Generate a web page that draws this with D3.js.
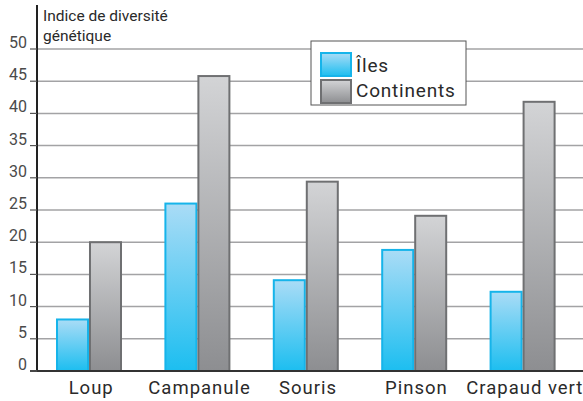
<!DOCTYPE html>
<html>
<head>
<meta charset="utf-8">
<script src="https://cdn.jsdelivr.net/npm/d3@7"></script>
<style>
  body { margin: 0; background: #fff; }
  text { font-family: Roboto, "Liberation Sans", sans-serif; }
</style>
</head>
<body>
<div id="chart"></div>
<script>
const categories = ['Loup', 'Campanule', 'Souris', 'Pinson', 'Crapaud vert']
const seriesNames = ['Îles', 'Continents']
const iles = [8, 26, 14.1, 18.8, 12.3]
const continents = [20, 45.8, 29.4, 24.1, 41.8]
const yTicks = [0, 5, 10, 15, 20, 25, 30, 35, 40, 45, 50]

const width = 583, height = 401
const margin = { top: 49, right: 0, bottom: 30, left: 37 }

const svg = d3.select('#chart').append('svg')
  .attr('width', width)
  .attr('height', height)

const defs = svg.append('defs')
function grad(id, top, bottom) {
  let g = defs.append('linearGradient').attr('id', id)
    .attr('x1', 0).attr('y1', 0).attr('x2', 0).attr('y2', 1)
  g.append('stop').attr('offset', '0%').attr('stop-color', top)
  g.append('stop').attr('offset', '100%').attr('stop-color', bottom)
}
grad('gIles', '#aadcf6', '#1cbef0')
grad('gCont', '#d3d4d6', '#8d8e91')
const fills = ['url(#gIles)', 'url(#gCont)']
const strokes = ['#16b4ea', '#6f7072']

const y = d3.scaleLinear().domain([0, 50]).range([371, 49])
const x0 = d3.scaleBand().domain(categories).range([37, 579]).paddingInner(0)
const x1 = d3.scaleBand().domain(seriesNames).range([20, 84]).paddingInner(0.06)

// gridlines
svg.append('g')
  .selectAll('line')
  .data(yTicks.slice(1))
  .enter()
  .append('line')
  .attr('x1', margin.left)
  .attr('x2', width)
  .attr('y1', d => y(d))
  .attr('y2', d => y(d))
  .attr('stroke', '#a3a3a5')
  .attr('stroke-width', 1.5)

// bars
const groups = svg.append('g')
  .selectAll('g.cat')
  .data(categories)
  .enter()
  .append('g')
  .attr('class', 'cat')
  .attr('transform', d => 'translate(' + x0(d) + ',0)')

groups.selectAll('rect')
  .data((d, i) => [iles[i], continents[i]].map((v, j) => ({ s: seriesNames[j], v: v, j: j })))
  .enter()
  .append('rect')
  .attr('x', d => x1(d.s))
  .attr('width', x1.bandwidth())
  .attr('y', d => y(d.v))
  .attr('height', d => y(0) - y(d.v))
  .attr('fill', d => fills[d.j])
  .attr('stroke', d => strokes[d.j])
  .attr('stroke-width', 2)

// y axis
svg.append('line')
  .attr('x1', margin.left).attr('x2', margin.left)
  .attr('y1', 5).attr('y2', y(0) + 1)
  .attr('stroke', '#222').attr('stroke-width', 2)
svg.append('line')
  .attr('x1', margin.left - 7).attr('x2', width)
  .attr('y1', y(0)).attr('y2', y(0))
  .attr('stroke', '#333').attr('stroke-width', 2)

const ticks = svg.append('g')
ticks.selectAll('line')
  .data(yTicks)
  .enter()
  .append('line')
  .attr('x1', margin.left - 7)
  .attr('x2', margin.left)
  .attr('y1', d => y(d))
  .attr('y2', d => y(d))
  .attr('stroke', '#555')
  .attr('stroke-width', 1.2)
ticks.selectAll('text')
  .data(yTicks)
  .enter()
  .append('text')
  .attr('x', 27)
  .attr('y', d => y(d) - 1)
  .attr('text-anchor', 'end')
  .attr('font-size', '16px')
  .attr('fill', '#4a4a4a')
  .text(d => d)

// category labels
svg.append('g')
  .selectAll('text')
  .data(categories)
  .enter()
  .append('text')
  .attr('x', d => x0(d) + x0.bandwidth() / 2)
  .attr('y', 394)
  .attr('text-anchor', 'middle')
  .attr('font-size', '18.5px')
  .attr('letter-spacing', '1px')
  .attr('fill', '#2a2a2a')
  .text(d => d)

// title
const title = svg.append('text')
  .attr('font-size', '15.5px')
  .attr('fill', '#2a2a2a')
title.append('tspan').attr('x', 43).attr('y', 21).text('Indice de diversité')
title.append('tspan').attr('x', 43).attr('y', 41).text('génétique')

// legend
const legend = svg.append('g').attr('transform', 'translate(311,41)')
legend.append('rect')
  .attr('width', 155).attr('height', 64)
  .attr('fill', '#fff').attr('stroke', '#555').attr('stroke-width', 1)
seriesNames.forEach(function(name, i) {
  legend.append('rect')
    .attr('x', 10).attr('y', 12 + i * 27)
    .attr('width', 30).attr('height', 23)
    .attr('fill', fills[i]).attr('stroke', strokes[i]).attr('stroke-width', 2)
  legend.append('text')
    .attr('x', 45).attr('y', 31 + i * 25)
    .attr('font-size', '19px')
    .attr('letter-spacing', '0.8px')
    .attr('fill', '#2a2a2a')
    .text(name)
})
</script>
</body>
</html>
